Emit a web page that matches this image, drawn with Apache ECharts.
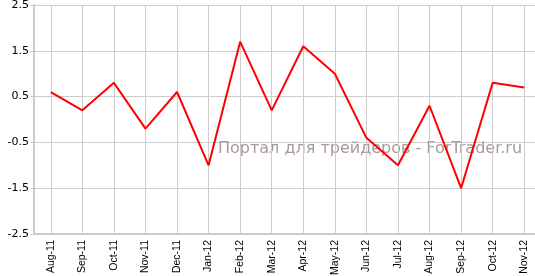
<!DOCTYPE html>
<html><head><meta charset="utf-8">
<script src="https://cdn.jsdelivr.net/npm/echarts@6/dist/echarts.min.js"></script>
<style>html,body{margin:0;padding:0;background:#fff}#c{width:535px;height:276px}</style>
</head><body><div id="c"></div>
<script>
const categories = ['Aug-11','Sep-11','Oct-11','Nov-11','Dec-11','Jan-12','Feb-12','Mar-12','Apr-12','May-12','Jun-12','Jul-12','Aug-12','Sep-12','Oct-12','Nov-12'];
const values = [0.6,0.2,0.8,-0.2,0.6,-1.0,1.7,0.2,1.6,1.0,-0.4,-1.0,0.3,-1.5,0.8,0.7];
const yTicks = [-2.5,-1.5,-0.5,0.5,1.5,2.5];
const watermark = 'Портал для трейдеров - ForTrader.ru';

const chart = echarts.init(document.getElementById('c'), null, {renderer:'canvas'});
chart.setOption({
  animation:false,
  grid:{left:35,width:505,top:5,bottom:42,containLabel:false,outerBoundsMode:'none'},
  xAxis:{type:'category',data:categories,boundaryGap:true,
    axisLine:{onZero:false,lineStyle:{color:'#cccccc',width:2}},
    axisTick:{alignWithLabel:true,length:4,lineStyle:{color:'#cccccc'}},
    axisLabel:{rotate:90,fontFamily:'Liberation Sans',fontSize:10.5,color:'#000',margin:6},
    splitLine:{show:false}},
  yAxis:{type:'value',min:yTicks[0],max:yTicks[yTicks.length-1],interval:1,offset:1,
    axisLine:{show:true,lineStyle:{color:'#cccccc',width:2}},
    axisTick:{show:true,length:4,lineStyle:{color:'#cccccc'}},
    axisLabel:{fontFamily:'DejaVu Sans',fontSize:11,color:'#000',margin:5,formatter:v=>String(Math.round(v*10)/10)},
    splitLine:{show:true,lineStyle:{color:'#cccccc',width:1}}},
  graphic:[{type:'text',left:218,top:141,z:1,style:{text:watermark,fontFamily:'DejaVu Sans',fontSize:16,fill:'#a89a98'}}],
  series:[{type:'line',data:values,symbol:'none',z:5,
    lineStyle:{color:'#ff0000',width:2},
    markLine:{silent:true,symbol:'none',label:{show:false},animation:false,
      lineStyle:{color:'#cccccc',width:1,type:'solid'},
      data:categories.map(c=>({xAxis:c}))}}]
});
</script></body></html>
